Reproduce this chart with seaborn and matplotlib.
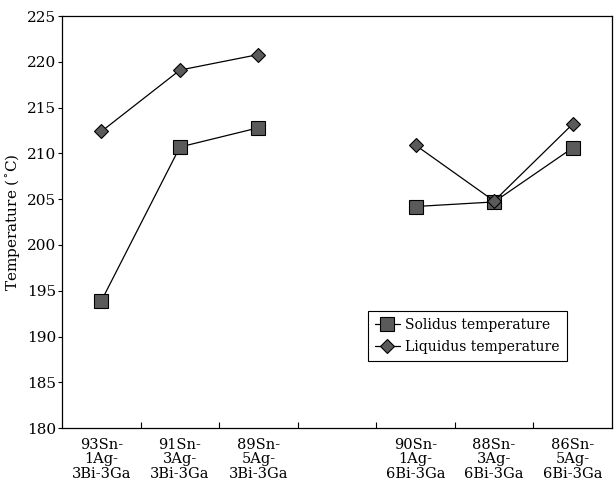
import matplotlib
matplotlib.use("Agg")
import matplotlib.pyplot as plt
import seaborn as sns
import pandas as pd
import numpy as np

categories = ["93Sn-\n1Ag-\n3Bi-3Ga", "91Sn-\n3Ag-\n3Bi-3Ga", "89Sn-\n5Ag-\n3Bi-3Ga", "",
              "90Sn-\n1Ag-\n6Bi-3Ga", "88Sn-\n3Ag-\n6Bi-3Ga", "86Sn-\n5Ag-\n6Bi-3Ga"]
group1 = categories[0:3]
group2 = categories[4:7]
solidus_g1 = [193.9, 210.7, 212.8]
liquidus_g1 = [212.4, 219.1, 220.8]
solidus_g2 = [204.2, 204.7, 210.6]
liquidus_g2 = [210.9, 204.8, 213.2]

rows = []
for name, grp, vals, g in [("Solidus temperature", group1, solidus_g1, 1),
                           ("Liquidus temperature", group1, liquidus_g1, 1),
                           ("Solidus temperature", group2, solidus_g2, 2),
                           ("Liquidus temperature", group2, liquidus_g2, 2)]:
    for c, v in zip(grp, vals):
        rows.append({"series": name, "group": g, "x": categories.index(c), "temp": v})
df = pd.DataFrame(rows)

sns.set_style("ticks")
plt.rcParams["font.family"] = ["DejaVu Serif"]
for k in ["text.color", "axes.labelcolor", "xtick.color", "ytick.color", "axes.edgecolor"]:
    plt.rcParams[k] = "black"

fig = plt.figure(figsize=(6.15, 4.87), dpi=100)
ax = fig.add_axes([0.101, 0.121, 0.894, 0.846])

styles = {"Solidus temperature": dict(marker="s", markersize=10.5),
          "Liquidus temperature": dict(marker="D", markersize=7.5)}
for series in ["Solidus temperature", "Liquidus temperature"]:
    for g in [1, 2]:
        sub = df[(df.series == series) & (df.group == g)]
        sns.lineplot(data=sub, x="x", y="temp", ax=ax, color="black", linewidth=0.9,
                     markerfacecolor="#5a5a5a", markeredgecolor="black", markeredgewidth=0.8,
                     label=series if g == 1 else None, legend=False, **styles[series])

ax.set_xlim(-0.5, len(categories) - 0.5)
ax.set_ylim(180, 225)
ax.set_yticks(np.arange(180, 226, 5))
ax.set_xticks(np.arange(len(categories)))
ax.set_xticklabels(categories, fontsize=10.5, linespacing=1.05)
ax.set_xticks(np.arange(0.5, len(categories) - 1, 1), minor=True)
ax.tick_params(axis="x", which="major", length=0, pad=7)
ax.tick_params(axis="x", which="minor", direction="in", length=4, width=0.8)
ax.tick_params(axis="y", direction="out", length=3, width=0.8, labelsize=11, pad=1)
ax.set_xlabel("")
ax.set_ylabel("Temperature ($^{\\circ}$C)", fontsize=11, labelpad=4)
for s in ax.spines.values():
    s.set_visible(True)
    s.set_linewidth(0.9)
    s.set_color("black")

leg = ax.legend(loc="upper left", bbox_to_anchor=(0.556, 0.284), borderaxespad=0,
                frameon=True, fancybox=False, framealpha=1,
                edgecolor="black", fontsize=10, handlelength=1.8, borderpad=0.5,
                labelspacing=0.55, handletextpad=0.4)
leg.get_frame().set_linewidth(0.8)

fig.savefig("out.png", dpi=100)
